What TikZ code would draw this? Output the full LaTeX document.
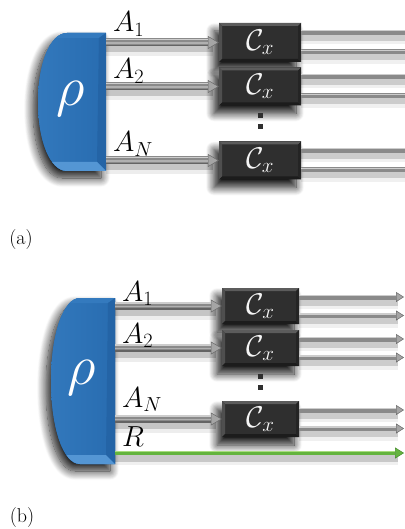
\documentclass[tikz,border=0pt]{standalone}
\usepackage{fix-cm}
\usetikzlibrary{arrows.meta,shadows.blur}
\definecolor{rhoface}{RGB}{40,108,176}
\definecolor{rholeft}{RGB}{50,120,188}
\definecolor{rhotop}{RGB}{52,122,190}
\definecolor{rhodark}{RGB}{36,100,166}
\definecolor{rholight}{RGB}{84,150,212}
\definecolor{boxfill}{RGB}{47,47,47}
\definecolor{boxhi}{RGB}{92,92,92}
\definecolor{boxlo}{RGB}{28,28,28}
\definecolor{tubemid}{RGB}{138,138,138}
\definecolor{tubehi}{RGB}{205,205,205}
\definecolor{tubelight}{RGB}{176,176,176}
\definecolor{tubedark}{RGB}{100,100,100}
\definecolor{tubetip}{RGB}{165,165,165}
\definecolor{tubeedge}{RGB}{105,105,105}
\definecolor{rgreen}{RGB}{100,180,62}
\definecolor{rgreenhi}{RGB}{168,222,125}
\definecolor{rgreendk}{RGB}{70,140,45}
\newcommand\rhopath[4]{(#3,#2) -- ({#1+29},#2) .. controls ({#1+12},#2) and (#1,{#2+0.22*(#4-#2)}) .. (#1,{(#2+#4)/2}) .. controls (#1,{#4-0.22*(#4-#2)}) and ({#1+12},#4) .. ({#1+29},#4) -- (#3,#4) -- cycle}
\newcommand\rhoblock[4]{%
  \fill[rhoface, blur shadow={shadow xshift=-5pt, shadow yshift=-7pt, shadow blur radius=9pt, shadow blur steps=14, shadow opacity=90}] \rhopath{#1}{#2}{#3}{#4};
  \begin{scope}
    \clip \rhopath{#1}{#2}{#3}{#4};
    \shade[left color=rholeft, right color=rhoface] (#1,#2) rectangle (#3,#4);
    \fill[rhotop] (0,#2) -- (#3,#2) -- ({#3-7},{#2+5}) -- (0,{#2+5}) -- cycle;
    \fill[rhodark] ({#3-7},{#2+5}) -- (#3,#2) -- (#3,#4) -- ({#3-9},{#4-9}) -- cycle;
    \fill[rholight] (0,{#4-9}) -- ({#3-9},{#4-9}) -- (#3,#4) -- (0,#4) -- cycle;
  \end{scope}}
\newcommand\tubeIn[2]{%
  \draw[tshadowB] (#1) -- (#2);
  \draw[tshadowA] (#1) -- (#2);
  \draw[tubebody] (#1) -- (#2);
  \draw[tubebot] (#1) -- (#2);
  \draw[tubemidhl] (#1) -- (#2);
  \draw[tubetop] (#1) -- (#2);}
\newcommand\tubeOut[2]{%
  \draw[oshadowB] (#1) -- (#2);
  \draw[oshadow] (#1) -- (#2);
  \draw[outbody] (#1) -- (#2);
  \draw[outtop] (#1) -- (#2);}
\tikzset{
  cbox/.style={rectangle, fill=boxfill, inner sep=0pt, text=white!92!gray,
    font=\fontsize{30}{32}\selectfont,
    blur shadow={shadow xshift=-5pt, shadow yshift=-8pt, shadow blur radius=8pt, shadow blur steps=14, shadow opacity=90},
    path picture={
      \fill[boxhi] (path picture bounding box.north west) -- (path picture bounding box.north east) -- ([xshift=-3pt,yshift=-3pt]path picture bounding box.north east) -- ([xshift=3pt,yshift=-3pt]path picture bounding box.north west) -- cycle;
      \fill[boxhi!70!boxfill] (path picture bounding box.north west) -- ([xshift=3pt,yshift=-3pt]path picture bounding box.north west) -- ([xshift=3pt,yshift=3pt]path picture bounding box.south west) -- (path picture bounding box.south west) -- cycle;
      \fill[boxlo] (path picture bounding box.south west) -- (path picture bounding box.south east) -- ([xshift=-3pt,yshift=3pt]path picture bounding box.south east) -- ([xshift=3pt,yshift=3pt]path picture bounding box.south west) -- cycle;
      \fill[boxlo!60!boxfill] (path picture bounding box.north east) -- ([xshift=-3pt,yshift=-3pt]path picture bounding box.north east) -- ([xshift=-3pt,yshift=3pt]path picture bounding box.south east) -- (path picture bounding box.south east) -- cycle;
    }},
  lbl/.style={anchor=base west, inner sep=0pt, font=\fontsize{29}{31}\selectfont},
  tshadowA/.style={line width=9pt, black, opacity=.17, transform canvas={yshift=-5pt}, shorten >=6pt},
  tshadowB/.style={line width=16pt, black, opacity=.07, transform canvas={yshift=-6pt}, shorten >=6pt},
  tubebody/.style={line width=8pt, draw=tubemid, -{Triangle[length=11pt,width=13pt,color=tubeedge,fill=tubetip,line width=.5pt]}},
  tubetop/.style={line width=1.3pt, draw=tubehi, shorten >=11pt, transform canvas={yshift=3pt}},
  tubemidhl/.style={line width=1.6pt, draw=tubelight, shorten >=11pt, transform canvas={yshift=-0.5pt}},
  tubebot/.style={line width=1.5pt, draw=tubedark, shorten >=11pt, transform canvas={yshift=-3.2pt}},
  oshadow/.style={line width=7pt, black, opacity=.15, transform canvas={yshift=-5pt}, shorten >=6pt},
  oshadowB/.style={line width=12pt, black, opacity=.06, transform canvas={yshift=-6pt}, shorten >=6pt},
  outbody/.style={line width=5pt, draw=tubemid, -{Triangle[length=8pt,width=10pt,color=tubeedge,fill=tubetip,line width=.5pt]}},
  outtop/.style={line width=1.2pt, draw=tubehi, shorten >=8pt, transform canvas={yshift=1.6pt}},
  gshadow/.style={line width=7pt, black, opacity=.17, transform canvas={yshift=-5pt}, shorten >=6pt},
  gshadowB/.style={line width=12pt, black, opacity=.06, transform canvas={yshift=-6pt}, shorten >=6pt},
  gbody/.style={line width=4.5pt, draw=rgreen, -{Triangle[length=9pt,width=11pt,color=rgreendk,fill=rgreen,line width=.5pt]}},
  gtop/.style={line width=1.3pt, draw=rgreenhi, shorten >=9pt, transform canvas={yshift=1.2pt}},
  dotsq/.style={rectangle, fill=boxfill, minimum size=5pt, inner sep=0pt},
  panel/.style={inner sep=0pt, font=\fontsize{20}{22}\selectfont}
}
\begin{document}
\begin{tikzpicture}[x=1pt,y=-1pt]
\useasboundingbox (0,0) rectangle (404,529);
% ---------------- panel (a)
\rhoblock{38}{33}{106}{171}
\node[inner sep=0pt, text=white, font=\fontsize{56}{60}\selectfont] (rhoA) at (71,99) {$\rho$};
\coordinate (a1s) at (106,42.5);
\coordinate (a2s) at (106,86.5);
\coordinate (aNs) at (106,160.5);
\coordinate (rightA) at (414,0);
\node[cbox, minimum width=82pt, minimum height=39pt] (ca1) at (260,42.5) {$\mathcal{C}_x$};
\node[cbox, minimum width=82pt, minimum height=38pt] (ca2) at (260,86.5) {$\mathcal{C}_x$};
\node[cbox, minimum width=82pt, minimum height=38pt] (caN) at (260,160.5) {$\mathcal{C}_x$};
\node[dotsq] (da1) at (260,116) {};
\node[dotsq] (da2) at (260,127) {};
\tubeIn{a1s}{ca1.west}
\tubeIn{a2s}{ca2.west}
\tubeIn{aNs}{caN.west}
\foreach \b in {ca1,ca2,caN}{
  \tubeOut{[yshift=10pt]\b.east}{[yshift=10pt]\b.east -| rightA}
  \tubeOut{[yshift=-9.5pt]\b.east}{[yshift=-9.5pt]\b.east -| rightA}
}
\node[lbl] (la1) at (113,32) {$A_1$};
\node[lbl] (la2) at (113,79) {$A_2$};
\node[lbl] (laN) at (113,152) {$A_N$};
\node[panel] (pa) at (21,240) {(a)};
% ---------------- panel (b)
\rhoblock{51}{298}{115}{464}
\node[inner sep=0pt, text=white, font=\fontsize{56}{60}\selectfont] (rhoB) at (82,378) {$\rho$};
\coordinate (b1s) at (115,306);
\coordinate (b2s) at (115,348);
\coordinate (bNs) at (115,419);
\coordinate (bRs) at (115,453);
\coordinate (rightB) at (404,0);
\node[cbox, minimum width=77pt, minimum height=36pt] (cb1) at (260.5,306) {$\mathcal{C}_x$};
\node[cbox, minimum width=77pt, minimum height=36pt] (cb2) at (260.5,348) {$\mathcal{C}_x$};
\node[cbox, minimum width=77pt, minimum height=36pt] (cbN) at (260.5,419) {$\mathcal{C}_x$};
\node[dotsq] (db1) at (260,376) {};
\node[dotsq] (db2) at (260,387) {};
\tubeIn{b1s}{cb1.west}
\tubeIn{b2s}{cb2.west}
\tubeIn{bNs}{cbN.west}
\foreach \b in {cb1,cb2,cbN}{
  \tubeOut{[yshift=9pt]\b.east}{[yshift=9pt]\b.east -| rightB}
  \tubeOut{[yshift=-9.5pt]\b.east}{[yshift=-9.5pt]\b.east -| rightB}
}
\draw[gshadowB] (bRs) -- (bRs -| rightB);
\draw[gshadow] (bRs) -- (bRs -| rightB);
\draw[gbody] (bRs) -- (bRs -| rightB);
\draw[gtop] (bRs) -- (bRs -| rightB);
\node[lbl] (lb1) at (122,301) {$A_1$};
\node[lbl] (lb2) at (122,343) {$A_2$};
\node[lbl] (lbN) at (122,407) {$A_N$};
\node[lbl] (lbR) at (122,446) {$R$};
\node[panel] (pb) at (22,518) {(b)};
\end{tikzpicture}
\end{document}
